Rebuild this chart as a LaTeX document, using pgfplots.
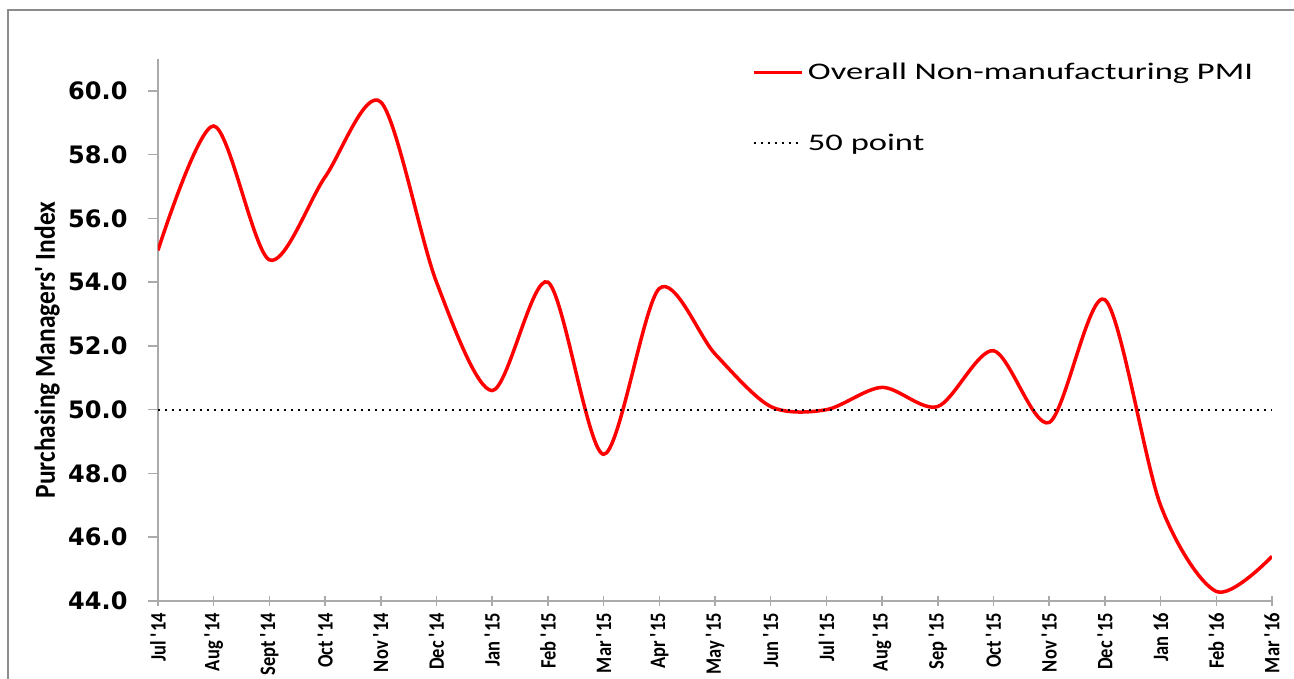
\documentclass[border=0pt]{standalone}
\usepackage{fontspec}
\setmainfont{Carlito}
\newfontfamily\ytfont{DejaVu Sans}
\newfontfamily\legfont[FakeStretch=1.45]{Carlito}
\newfontfamily\xtfont[FakeStretch=0.84]{Carlito}
\newfontfamily\ylfont[FakeStretch=0.88]{Carlito}
\usepackage{pgfplots}
\pgfplotsset{compat=1.18}
\definecolor{axgray}{RGB}{170,170,170}
\definecolor{framegray}{RGB}{140,140,140}
\pgfplotstableread{
x y
0 55.0
1 58.9
2 54.7
3 57.3
4 59.65
5 54.0
6 50.6
7 54.0
8 48.6
9 53.8
10 51.75
11 50.1
12 50.0
13 50.7
14 50.1
15 51.85
16 49.6
17 53.45
18 47.0
19 44.3
20 45.4
}\pmidata
\begin{document}
\begin{tikzpicture}[x=1pt,y=1pt]
\path[use as bounding box] (-158,-78) rectangle (1136,601);
\draw[framegray, line width=1.2pt] (-150,-80) -- (-150,591) -- (1140,591);
\begin{axis}[
  at={(0,0)}, anchor=south west,
  scale only axis, width=1114pt, height=542pt,
  xmin=0, xmax=20, ymin=44, ymax=61,
  axis x line*=bottom, axis y line*=left,
  axis line style={axgray, line width=1.5pt, -},
  tick style={axgray, line width=1.5pt},
  tick align=outside, major tick length=10pt,
  x tick style={yshift=5pt},
  xtick={0,...,20},
  xticklabels={Jul \textquotesingle14, Aug \textquotesingle14, Sept \textquotesingle14, Oct \textquotesingle14, Nov \textquotesingle14, Dec \textquotesingle14, Jan \textquotesingle15, Feb \textquotesingle15, Mar \textquotesingle15, Apr \textquotesingle15, May \textquotesingle15, Jun \textquotesingle15, Jul \textquotesingle15, Aug \textquotesingle15, Sep \textquotesingle15, Oct \textquotesingle15, Nov \textquotesingle15, Dec \textquotesingle15, Jan 16, Feb \textquotesingle16, Mar \textquotesingle16},
  xticklabel style={rotate=90, anchor=east, font=\xtfont\bfseries\fontsize{22}{22}\selectfont, inner sep=2pt},
  ytick={44,46,...,60},
  /pgf/number format/assume math mode=true,
  yticklabel={\pgfmathprintnumber[fixed,fixed zerofill,precision=1]{\tick}},
  yticklabel style={font=\ytfont\bfseries\fontsize{24}{24}\selectfont, xshift=-17pt},
  ylabel={Purchasing Managers\textquotesingle\ Index},
  ylabel style={at={(axis description cs:-0.0996,0.463)}, anchor=center, font=\ylfont\bfseries\fontsize{29}{29}\selectfont},
  legend style={draw=none, fill=none, at={(axis description cs:0.533,0.91)}, anchor=west,
    font=\legfont\fontsize{23.8}{23.8}\selectfont, row sep=44pt, inner sep=0pt,
    nodes={inner sep=4.5pt}},
  legend cell align=left,
  legend image code/.code={\draw[#1] (0pt,0pt) -- (48pt,0pt);},
]
\addplot[red, line width=3.5pt, smooth, tension=0.5] table[x=x,y=y] {\pmidata};
\addlegendentry{Overall Non-manufacturing PMI}
\addplot[black, line width=2pt, dash pattern=on 2pt off 5pt] coordinates {(0,50) (20,50)};
\addlegendentry{50 point}
\end{axis}
\end{tikzpicture}
\end{document}
